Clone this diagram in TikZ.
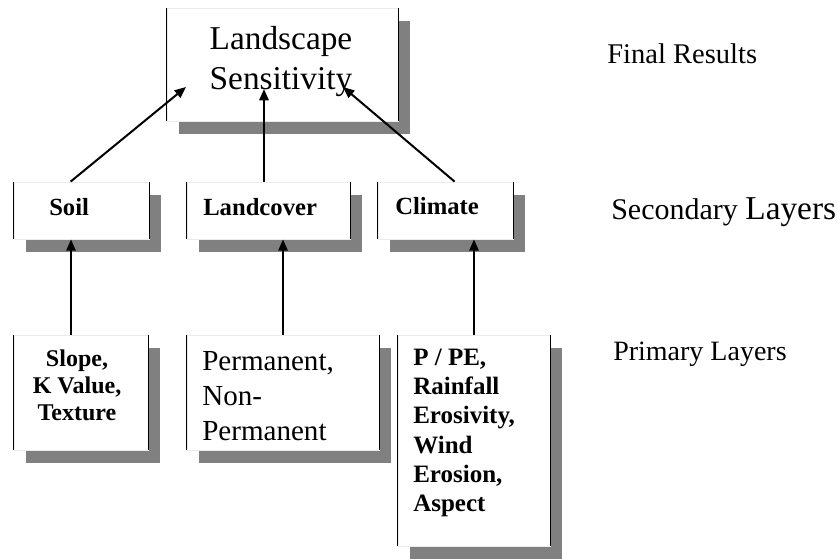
\documentclass[tikz,border=0pt]{standalone}
\usepackage{fontspec}
\setmainfont{Liberation Serif}
\usetikzlibrary{fit,shadows,arrows.meta,calc}
\definecolor{shadowgray}{HTML}{808080}
\definecolor{edgegray}{HTML}{EBEBEB}
\tikzset{
  box/.style={rectangle, inner sep=0pt, draw=edgegray, line width=0.6pt, fill=white,
    drop shadow={shadow xshift=9pt, shadow yshift=-9.75pt, fill=shadowgray, opacity=1}},
  side/.style={draw=black, line width=0.9pt},
  conn/.style={draw=black, line width=1.5pt, -{Triangle[length=8.5pt,width=7pt]}},
  lbl/.style={inner sep=0pt, anchor=base west},
}
\begin{document}
\begin{tikzpicture}[x=0.75pt,y=-0.75pt]
\fill[white] (0,0) rectangle (837,558);
\path[use as bounding box] (0,0) rectangle (837,558);

% boxes
\node[box, fit={(167,8) (398,121)}] (top) {};
\node[box, fit={(14,182) (149,239)}] (soil) {};
\node[box, fit={(187,182) (350,239)}] (land) {};
\node[box, fit={(378,182) (513,239)}] (clim) {};
\node[box, fit={(14,335) (148,450)}] (p1) {};
\node[box, fit={(187,335) (379,450)}] (p2) {};
\node[box, fit={(398,335) (550,546)}] (p3) {};
\foreach \n in {top,soil,land,clim,p1,p2,p3}
  \draw[side] (\n.north west) -- (\n.south west) (\n.north east) -- (\n.south east);

% texts
\node[lbl, anchor=base] (toptxt) at (281,49) {\fontsize{25}{30}\selectfont\begin{tabular}[t]{@{}c@{}}Landscape\\Sensitivity\end{tabular}};
\node[lbl] (soiltxt) at (49,215) {\fontsize{18.5}{22}\selectfont\bfseries Soil};
\node[lbl] (landtxt) at (203,215) {\fontsize{18.5}{22}\selectfont\bfseries Landcover};
\node[lbl] (climtxt) at (395,214) {\fontsize{18.5}{22}\selectfont\bfseries Climate};
\node[lbl, anchor=base] (p1txt) at (77,366) {\fontsize{18}{20.5}\selectfont\bfseries\begin{tabular}[t]{@{}c@{}}Slope,\\K Value,\\Texture\end{tabular}};
\node[lbl] (p2txt) at (202,370) {\fontsize{21.8}{26.25}\selectfont\begin{tabular}[t]{@{}l@{}}Permanent,\\Non-\\Permanent\end{tabular}};
\node[lbl] (p3txt) at (413,365) {\fontsize{18.75}{22}\selectfont\bfseries\begin{tabular}[t]{@{}l@{}}P / PE,\\Rainfall\\Erosivity,\\Wind\\Erosion,\\Aspect\end{tabular}};
\node[lbl] (final) at (607,63) {\fontsize{21.4}{25}\selectfont Final Results};
\node[lbl] (second) at (611,219) {\fontsize{22.5}{27}\selectfont Secondary {\fontsize{25}{30}\selectfont Layers}};
\node[lbl] (primary) at (613,360) {\fontsize{21}{25}\selectfont Primary Layers};

% connectors
\coordinate (a1) at (186,87);
\coordinate (a2) at (264,89);
\coordinate (a3) at (343,87);
\coordinate (b1) at (71,0);
\draw[conn] ($(soil.north west)+(57,0)$) -- (a1);
\draw[conn] (land.north -| a2) -- (a2);
\draw[conn] ($(clim.north west)+(77,0)$) -- (a3);
\draw[conn] (p1.north -| b1) -- (soil.south -| b1);
\draw[conn] (p2.north) -- (p2.north |- land.south);
\draw[conn] (p3.north) -- (p3.north |- clim.south);
\end{tikzpicture}
\end{document}
